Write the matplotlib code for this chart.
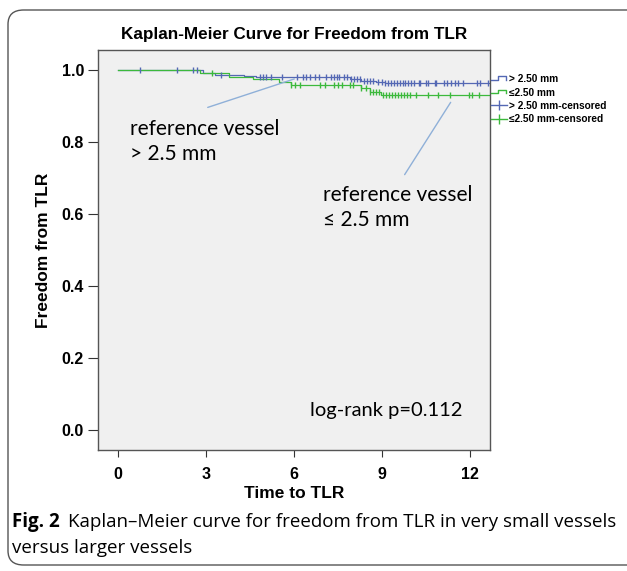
import numpy as np
import matplotlib
matplotlib.use("Agg")
import matplotlib.pyplot as plt
from matplotlib.lines import Line2D
from matplotlib.legend_handler import HandlerBase
from matplotlib.patches import FancyBboxPatch

# step (event) points: time in months, survival
t_big = [0, 2.9, 3.3, 4.3, 4.7, 7.9, 8.3, 8.8, 9.1, 12.65]
s_big = [1.0, 0.992, 0.987, 0.983, 0.980, 0.975, 0.971, 0.967, 0.965, 0.965]
t_small = [0, 2.8, 3.8, 4.6, 5.5, 5.9, 8.3, 8.6, 8.95, 12.65]
s_small = [1.0, 0.991, 0.981, 0.974, 0.967, 0.959, 0.951, 0.940, 0.931, 0.931]

# censored times
c_big = [0.75, 2.0, 2.55, 2.7, 3.5, 4.85, 4.95, 5.05, 5.2, 5.6, 6.1, 6.3, 6.4,
         6.55, 6.7, 6.85, 7.1, 7.25, 7.35, 7.45, 7.55, 7.7, 7.8, 7.95, 8.05,
         8.15, 8.25, 8.4, 8.5, 8.6, 8.7, 8.85, 9.0, 9.1, 9.2, 9.3, 9.4, 9.5,
         9.6, 9.7, 9.8, 9.9, 10.0, 10.1, 10.25, 10.3, 10.5, 10.55, 10.8, 10.85,
         11.1, 11.2, 11.35, 11.5, 11.6, 11.75, 12.25, 12.35, 12.6]
c_small = [3.2, 5.9, 6.05, 6.2, 6.9, 7.05, 7.35, 7.5, 7.65, 7.9, 8.0, 8.3, 8.45,
           8.6, 8.7, 8.8, 8.9, 9.05, 9.15, 9.25, 9.35, 9.45, 9.55, 9.65, 9.75,
           9.85, 9.95, 10.15, 10.55, 10.9, 11.3, 11.95, 12.05, 12.3]

labels = ["> 2.50 mm", "\u22642.50 mm", "> 2.50 mm-censored", "\u22642.50 mm-censored"]
xticks = [0, 3, 6, 9, 12]
yticks = [0.0, 0.2, 0.4, 0.6, 0.8, 1.0]

blue = "#5468b4"
green = "#3cb93c"
note_line = "#8fb0d8"


def surv_at(times, surv, t):
    i = np.searchsorted(times, t, side="right") - 1
    return np.array(surv)[i]


class StepHandler(HandlerBase):
    def create_artists(self, legend, orig, xd, yd, w, h, fontsize, trans):
        x = np.array([0, 0.45, 0.45, 0.95, 0.95]) * w - xd
        y = np.array([0.3, 0.3, 0.85, 0.85, 0.3]) * h - yd
        ln = Line2D(x, y, color=orig.get_color(), lw=1.0, transform=trans)
        return [ln]


fig = plt.figure(figsize=(6.27, 5.71), dpi=100)
box = FancyBboxPatch((8 / 627, 6 / 571), 700 / 627, 555 / 571,
                     boxstyle="round,pad=0,rounding_size=0.025",
                     transform=fig.transFigure, fc="none", ec="#555555", lw=1.0)
fig.patches.append(box)

ax = fig.add_axes([98 / 627, 1 - 450 / 571, 392 / 627, 400 / 571])
ax.set_facecolor("#f0f0f0")
for sp in ax.spines.values():
    sp.set_color("#555555")
    sp.set_linewidth(1.0)

ax.step(t_big, s_big, where="post", color=blue, lw=0.9)
ax.step(t_small, s_small, where="post", color=green, lw=0.9)
ax.plot(c_big, surv_at(t_big, s_big, c_big), ls="none", marker="|",
        color=blue, ms=5, mew=1.0)
ax.plot(c_small, surv_at(t_small, s_small, c_small), ls="none", marker="|",
        color=green, ms=5, mew=1.0)

ax.set_xlim(-0.68, 12.68)
ax.set_ylim(-0.056, 1.056)
ax.set_xticks(xticks)
ax.set_yticks(yticks)
ax.set_xticklabels([str(v) for v in xticks], fontweight="bold",
                   fontsize=11.5, family="Liberation Sans")
ax.set_yticklabels(["%.1f" % v for v in yticks], fontweight="bold",
                   fontsize=11.5, family="Liberation Sans")
ax.tick_params(axis="x", direction="out", length=5, color="#333333", pad=7)
ax.tick_params(axis="y", direction="out", length=7, color="#333333", pad=3)
ax.set_xlabel("Time to TLR", fontweight="bold", fontsize=12.5,
              family="Liberation Sans", labelpad=3)
ax.set_ylabel("Freedom from TLR", fontweight="bold", fontsize=12.5,
              family="Liberation Sans", labelpad=8)
ax.set_title("Kaplan-Meier Curve for Freedom from TLR", fontweight="bold",
             fontsize=12.3, family="Liberation Sans", pad=8)

# annotations
ax.annotate("", xy=(6.1, 0.978), xytext=(2.97, 0.894),
            arrowprops=dict(arrowstyle="-", color=note_line, lw=1.0))
ax.annotate("", xy=(11.39, 0.917), xytext=(9.72, 0.703),
            arrowprops=dict(arrowstyle="-", color=note_line, lw=1.0))
ax.text(0.41, 0.801, "reference vessel\n> 2.5 mm", fontsize=15, family="Lato",
        va="center", ha="left", linespacing=1.3)
ax.text(6.99, 0.619, "reference vessel\n\u2264 2.5 mm", fontsize=15,
        family=["Lato", "DejaVu Sans"], va="center", ha="left", linespacing=1.3)
ax.text(6.55, 0.053, "log-rank p=0.112", fontsize=14.5, family="Lato",
        va="center", ha="left")

handles = [Line2D([], [], color=blue), Line2D([], [], color=green),
           Line2D([], [], color=blue, marker="|", ms=7, lw=1.0),
           Line2D([], [], color=green, marker="|", ms=7, lw=1.0)]
hmap = {handles[0]: StepHandler(), handles[1]: StepHandler()}
leg = ax.legend(handles, labels, handler_map=hmap, loc="upper left",
                bbox_to_anchor=(1.0, 0.942), frameon=False, borderaxespad=0,
                handlelength=1.6, handletextpad=0.2, labelspacing=0.33,
                borderpad=0.1,
                prop={"family": ["Liberation Sans", "DejaVu Sans"],
                      "weight": "bold", "size": 7.3})

fig.text(12 / 627, 1 - 522 / 571, "Fig. 2", fontsize=13.5, fontweight="bold",
         family="Open Sans", va="center", ha="left")
fig.text(68 / 627, 1 - 522 / 571,
         "Kaplan\u2013Meier curve for freedom from TLR in very small vessels",
         fontsize=13.5, family="Open Sans", va="center", ha="left")
fig.text(12 / 627, 1 - 548 / 571, "versus larger vessels", fontsize=13.5,
         family="Open Sans", va="center", ha="left")

fig.savefig("out.png", dpi=100)
